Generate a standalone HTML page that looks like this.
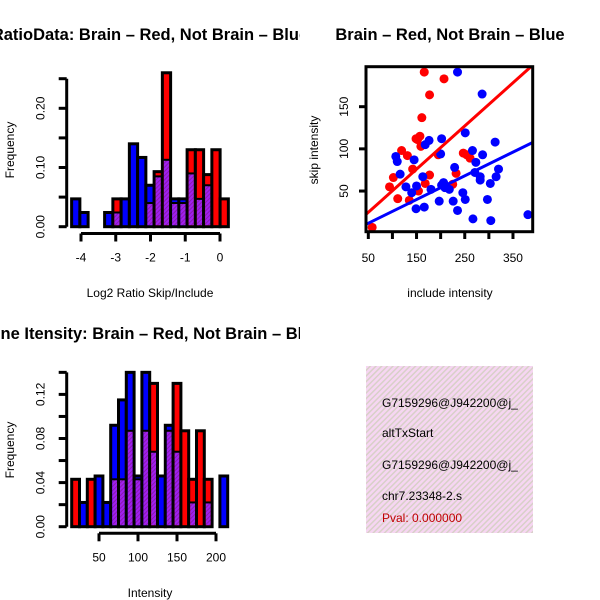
<!DOCTYPE html>
<html><head><meta charset="utf-8"><style>
html,body{margin:0;padding:0;background:#fff}
svg{display:block;font-family:"Liberation Sans",sans-serif}
</style></head><body>
<svg id="c" width="600" height="600" viewBox="0 0 600 600">
<defs>
<pattern id="hatch" patternUnits="userSpaceOnUse" width="4" height="4" patternTransform="rotate(45)">
<rect width="4" height="4" fill="#f6d6f2"/><rect width="1.5" height="4" fill="#d8d0c8"/>
</pattern>
<pattern id="ph" patternUnits="userSpaceOnUse" width="3" height="3" patternTransform="rotate(45)">
<rect width="3" height="3" fill="#a020f0"/><rect width="1" height="3" fill="#8a1ab0"/>
</pattern>
<clipPath id="scClip"><rect x="366" y="66.7" width="166.7" height="165"/></clipPath>
<clipPath id="boxClip"><rect x="366" y="366" width="167" height="167"/></clipPath>
<clipPath id="t1Clip"><rect x="0" y="0" width="300" height="60"/></clipPath>
<clipPath id="t3Clip"><rect x="0" y="300" width="300" height="60"/></clipPath>
</defs>
<g id="titles">
<text x="150" y="40" text-anchor="middle" font-size="16.5" font-weight="bold" clip-path="url(#t1Clip)">RatioData: Brain – Red, Not Brain – Blue</text>
<text x="450" y="40" text-anchor="middle" font-size="16.5" font-weight="bold">Brain – Red, Not Brain – Blue</text>
<text x="150" y="339" text-anchor="middle" font-size="16.5" font-weight="bold" clip-path="url(#t3Clip)">Gene Itensity: Brain – Red, Not Brain – Blue</text>
<text transform="translate(14,150) rotate(-90)" text-anchor="middle" font-size="12">Frequency</text>
<text x="150" y="297" text-anchor="middle" font-size="12">Log2 Ratio Skip/Include</text>
<text transform="translate(318,150) rotate(-90)" text-anchor="middle" font-size="12">skip intensity</text>
<text x="450" y="297" text-anchor="middle" font-size="12">include intensity</text>
<text transform="translate(14,450) rotate(-90)" text-anchor="middle" font-size="12">Frequency</text>
<text x="150" y="597" text-anchor="middle" font-size="12">Intensity</text>
</g>
<g clip-path="url(#boxClip)">
<rect x="366" y="366" width="167" height="167" fill="url(#hatch)"/>
<text x="382" y="407" font-size="12">G7159296@J942200@j_</text>
<text x="382" y="437" font-size="12">altTxStart</text>
<text x="382" y="469" font-size="12">G7159296@J942200@j_</text>
<text x="382" y="500" font-size="12">chr7.23348-2.s</text>
<text x="382" y="522" font-size="12" fill="#c00000">Pval: 0.000000</text>
</g>
</svg>
<script>
// ---- Ratio histogram data ----
const ratioStart = -4.27;
const ratioWidth = 0.2374;
const ratioBlue = [0.047,0.024,0,0,0.024,0.024,0.047,0.14,0.117,0.07,0.085,0.113,0.047,0.047,0.09,0.047,0.07,0,0];
const ratioRed  = [0,0,0,0,0,0.047,0,0,0,0.04,0.093,0.26,0.04,0.04,0.13,0.13,0.088,0.13,0.047];
const ratioXTicks = [-4,-3,-2,-1,0];
const ratioYTicks = [0,0.05,0.10,0.15,0.20,0.25];
const ratioYLabels = ["0.00","","0.10","","0.20",""];
// ---- Intensity histogram data ----
const intStart = 15;
const intWidth = 10;
const intBlue = [0,0.022,0,0.046,0.022,0.092,0.115,0.14,0.046,0.14,0.068,0.046,0.092,0.068,0,0.022,0,0.022,0,0.046];
const intRed  = [0.043,0,0.043,0,0,0.043,0.043,0.087,0.043,0.087,0.13,0,0.087,0.13,0.087,0.043,0.087,0.043,0,0];
const intXTicks = [50,100,150,200];
const intYTicks = [0,0.02,0.04,0.06,0.08,0.10,0.12,0.14];
const intYLabels = ["0.00","","0.04","","0.08","","0.12",""];
// ---- Scatter data ----
const redX = [58,94,111,102,119,131,142,135,154,149,157,161,159,168,166,177,177,195,207,232,225,247,254,261,152];
const redY = [7,55,41,66,98,92,76,39,50,112,115,137,103,59,191,164,69,93,183,71,58,95,93,89,111];
const blueX = [107,110,116,128,140,145,149,150,163,166,168,176,180,200,202,197,202,209,218,226,229,235,235,246,251,251,266,267,271,273,282,286,287,297,303,304,313,315,320,381,206,282];
const blueY = [91,85,70,55,48,87,29,56,67,31,105,110,52,94,112,38,57,54,52,38,78,27,191,48,40,119,98,17,72,84,67,165,93,40,59,15,108,67,76,22,60,63];
const redFit = [-0.85,0.512];
const blueFit = [-2.2,0.281];
const scXTicks = [50,100,150,200,250,300,350];
const scXLabels = ["50","","150","","250","","350"];
const scYTicks = [50,100,150];

const svg = document.getElementById('c');
const NS = 'http://www.w3.org/2000/svg';
function mk(tag, attrs, parent){
  const e = document.createElementNS(NS, tag);
  for (const k in attrs) e.setAttribute(k, attrs[k]);
  (parent||svg).appendChild(e);
  return e;
}

function drawHist(cfg){
  const g = mk('g', {});
  
  
  const xs = v => cfg.px0 + (v - cfg.x0) * cfg.kx;
  const ys = v => cfg.py0 - v * cfg.ky;
  for (let i = 0; i < cfg.blue.length; i++){
    const b = cfg.blue[i], r = cfg.red[i];
    const mx = Math.max(b, r), mn = Math.min(b, r);
    if (mx <= 0) continue;
    const xa = xs(cfg.start + i*cfg.width), xb = xs(cfg.start + (i+1)*cfg.width);
    const col = r > b ? '#ff0000' : '#0000ff';
    const bar = mk('rect', {x:xa, y:ys(mx), width:xb-xa, height:ys(0)-ys(mx), fill:col, stroke:'#000', 'stroke-width':3}, g);
    
    
    if (mn > 0){
      const ov = mk('rect', {x:xa+1.5, y:ys(mn), width:xb-xa-3, height:ys(0)-ys(mn)-1.5, fill:'url(#ph)'}, g);
      
      
      mk('line', {x1:xa, x2:xb, y1:ys(mn), y2:ys(mn), stroke:'#000', 'stroke-width':2}, g);
    }
  }
  const ya = mk('g', {}, g);
  
  
  const yt = cfg.yTicks;
  mk('line', {x1:cfg.axX, x2:cfg.axX, y1:ys(yt[0]), y2:ys(yt[yt.length-1]), stroke:'#000', 'stroke-width':3}, ya);
  yt.forEach((t, i) => {
    mk('line', {x1:cfg.axX-8, x2:cfg.axX, y1:ys(t), y2:ys(t), stroke:'#000', 'stroke-width':3}, ya);
    if (cfg.yLabels[i]){
      const tx = mk('text', {transform:`translate(${cfg.axX-22},${ys(t)}) rotate(-90)`, 'text-anchor':'middle', 'font-size':12}, ya);
      tx.textContent = cfg.yLabels[i];
    }
  });
  const xa2 = mk('g', {}, g);
  
  
  const xt = cfg.xTicks;
  mk('line', {x1:xs(xt[0]), x2:xs(xt[xt.length-1]), y1:cfg.axY, y2:cfg.axY, stroke:'#000', 'stroke-width':3}, xa2);
  xt.forEach(t => {
    mk('line', {x1:xs(t), x2:xs(t), y1:cfg.axY, y2:cfg.axY+8, stroke:'#000', 'stroke-width':3}, xa2);
    const tx = mk('text', {x:xs(t), y:cfg.axY+28, 'text-anchor':'middle', 'font-size':12}, xa2);
    tx.textContent = String(t);
  });
}

drawHist({name:'ratio-histogram', blue:ratioBlue, red:ratioRed, start:ratioStart, width:ratioWidth,
  x0:-4, px0:81, kx:34.75, py0:226.7, ky:592, axX:66.7, axY:233.5,
  xTicks:ratioXTicks, yTicks:ratioYTicks, yLabels:ratioYLabels});
drawHist({name:'intensity-histogram', blue:intBlue, red:intRed, start:intStart, width:intWidth,
  x0:50, px0:99, kx:0.78, py0:526.7, ky:1102.5, axX:66.7, axY:533.3,
  xTicks:intXTicks, yTicks:intYTicks, yLabels:intYLabels});

(function(){
  const g = mk('g', {});
  
  
  const xs = v => 366 + (v - 45.2) * (166.7/345.7);
  const ys = v => 231.7 - (v - 1.8) * (165/195.6);
  const pts = mk('g', {'clip-path':'url(#scClip)'}, g);
  redX.forEach((x, i) => {
    const c = mk('circle', {cx:xs(x), cy:ys(redY[i]), r:4.5, fill:'#ff0000'}, pts);
    
    
  });
  blueX.forEach((x, i) => {
    const c = mk('circle', {cx:xs(x), cy:ys(blueY[i]), r:4.5, fill:'#0000ff'}, pts);
    
    
  });
  [[redFit,'#ff0000','fit-line-red'],[blueFit,'#0000ff','fit-line-blue']].forEach(([f,col,nm]) => {
    const l = mk('line', {x1:xs(0), y1:ys(f[0]), x2:xs(500), y2:ys(f[0]+f[1]*500), stroke:col, 'stroke-width':3}, pts);
    
    
  });
  const box = mk('rect', {x:366, y:66.7, width:166.7, height:165, fill:'none', stroke:'#000', 'stroke-width':3}, g);
  
  
  const xa = mk('g', {}, g);
  
  
  scXTicks.forEach((t, i) => {
    mk('line', {x1:xs(t), x2:xs(t), y1:231.7, y2:239, stroke:'#000', 'stroke-width':3}, xa);
    if (scXLabels[i]){
      const tx = mk('text', {x:xs(t), y:262, 'text-anchor':'middle', 'font-size':12}, xa);
      tx.textContent = scXLabels[i];
    }
  });
  const ya = mk('g', {}, g);
  
  
  scYTicks.forEach(t => {
    mk('line', {x1:359, x2:366, y1:ys(t), y2:ys(t), stroke:'#000', 'stroke-width':3}, ya);
    const tx = mk('text', {transform:`translate(348,${ys(t)}) rotate(-90)`, 'text-anchor':'middle', 'font-size':12}, ya);
    tx.textContent = String(t);
  });
})();
</script>
</body></html>
